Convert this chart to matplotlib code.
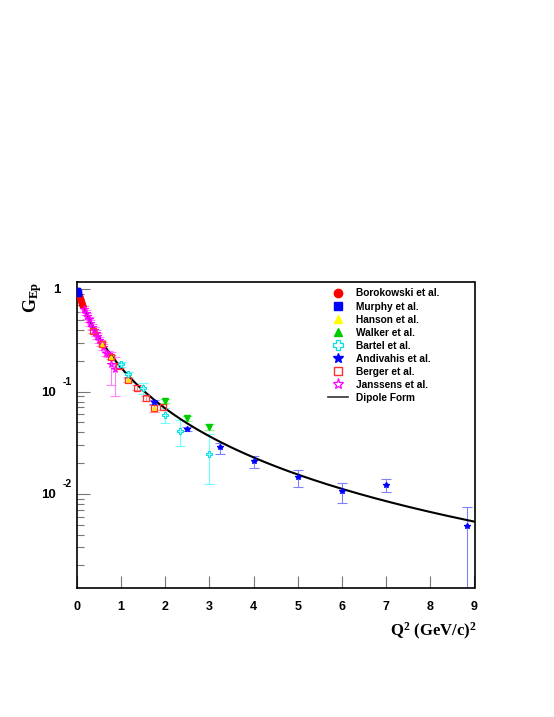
import numpy as np
import matplotlib
matplotlib.use("Agg")
import matplotlib.pyplot as plt
from matplotlib.lines import Line2D
from matplotlib.transforms import ScaledTranslation

plt.rcParams['font.family'] = ['Liberation Sans', 'DejaVu Sans']
plt.rcParams['mathtext.fontset'] = 'custom'
plt.rcParams['mathtext.rm'] = 'Liberation Serif:bold'
plt.rcParams['mathtext.bf'] = 'Liberation Serif:bold'
plt.rcParams['mathtext.it'] = 'Liberation Serif:bold'

# ---------------- data ----------------
q2_borokowski = [0.015, 0.025, 0.035, 0.045, 0.055, 0.065, 0.075, 0.09, 0.10, 0.115, 0.13, 0.145]
g_borokowski = [0.955, 0.93, 0.905, 0.88, 0.855, 0.835, 0.81, 0.78, 0.76, 0.735, 0.71, 0.685]

q2_murphy = [0.005, 0.01, 0.015, 0.02, 0.03]
g_murphy = [0.985, 0.975, 0.96, 0.945, 0.92]

q2_hanson = [0.58, 0.77, 1.15, 1.76]
g_hanson = [0.294, 0.217, 0.130, 0.0688]

q2_walker = [2.00, 2.50, 3.00]
g_walker = [0.081, 0.0549, 0.0455]
e_walker = [0.004, 0.003, 0.003]

q2_bartel = [1.00, 1.17, 1.50, 2.00, 2.33, 3.00]
g_bartel = [0.1855, 0.148, 0.108, 0.059, 0.041, 0.0248]
elo_bartel = [0.010, 0.009, 0.013, 0.010, 0.0116, 0.0123]
ehi_bartel = [0.010, 0.009, 0.014, 0.010, 0.0122, 0.0136]

q2_andivahis = [1.75, 2.50, 3.25, 4.00, 5.00, 6.00, 7.00, 8.83]
g_andivahis = [0.0794, 0.0429, 0.0284, 0.0210, 0.0146, 0.0107, 0.0123, 0.0048]
elo_andivahis = [0.003, 0.002, 0.0038, 0.0030, 0.0029, 0.0025, 0.0019, 0.00475]
ehi_andivahis = [0.003, 0.002, 0.0033, 0.0024, 0.0025, 0.0020, 0.0017, 0.0026]

q2_berger = [0.36, 0.58, 0.77, 0.96, 1.15, 1.36, 1.56, 1.76, 1.95]
g_berger = [0.392, 0.294, 0.217, 0.178, 0.130, 0.109, 0.0861, 0.0688, 0.0713]
e_berger = [0.015, 0.012, 0.010, 0.008, 0.006, 0.006, 0.005, 0.005, 0.005]

q2_janssens = [0.16, 0.20, 0.23, 0.27, 0.30, 0.35, 0.39, 0.43, 0.47, 0.51, 0.55, 0.60, 0.66, 0.70, 0.78, 0.87]
g_janssens = [0.64, 0.59, 0.55, 0.51, 0.47, 0.43, 0.40, 0.375, 0.35, 0.32, 0.30, 0.275, 0.237, 0.232, 0.188, 0.168]
elo_janssens = [0.04, 0.035, 0.033, 0.03, 0.028, 0.026, 0.024, 0.023, 0.021, 0.02, 0.018, 0.017, 0.015, 0.015, 0.073, 0.077]
ehi_janssens = [0.04, 0.035, 0.033, 0.03, 0.028, 0.026, 0.024, 0.023, 0.021, 0.02, 0.018, 0.017, 0.015, 0.015, 0.055, 0.05]

dipole_lambda2 = 0.71  # GeV^2
q2_range = (0.0, 9.0)

labels = ["Borokowski et al.", "Murphy et al.", "Hanson et al.", "Walker et al.",
          "Bartel et al.", "Andivahis et al.", "Berger et al.", "Janssens et al.", "Dipole Form"]

# ---------------- figure ----------------
W, H = 554, 717
fig = plt.figure(figsize=(W / 100, H / 100), dpi=100)
ax_l, ax_r, ax_t, ax_b = 76.7, 474.5, 282.0, 588.0
ax = fig.add_axes([ax_l / W, 1 - ax_b / H, (ax_r - ax_l) / W, (ax_b - ax_t) / H])
ax.set_yscale('log')
ax.set_xlim(*q2_range)
ax.set_ylim(0.0012, 1.18)

# dipole
q = np.linspace(q2_range[0], q2_range[1], 400)
ax.plot(q, 1.0 / (1.0 + q / dipole_lambda2) ** 2, color='black', lw=1.5, zorder=3)

ekw = dict(fmt='none', elinewidth=0.8, capsize=3.6, capthick=0.8, zorder=2)
ax.errorbar(q2_janssens, g_janssens, yerr=[elo_janssens, ehi_janssens], ecolor='#ff80ff', **ekw)
ax.errorbar(q2_berger, g_berger, yerr=e_berger, ecolor='#ff9090', **ekw)
ax.errorbar(q2_bartel, g_bartel, yerr=[elo_bartel, ehi_bartel], ecolor='#70ffff', **ekw)
ax.errorbar(q2_walker, g_walker, yerr=e_walker, ecolor='#80ff80', **ekw)
ax.errorbar(q2_andivahis, g_andivahis, yerr=[elo_andivahis, ehi_andivahis], ecolor='#8080ff', **ekw)

mk = dict(ls='none', zorder=4)
ax.plot(q2_borokowski, g_borokowski, marker='o', ms=3.8, mfc='#ff0000', mec='#ff0000', **mk)
ax.plot(q2_murphy, g_murphy, marker='s', ms=3.6, mfc='#0000ff', mec='#0000ff', **mk)
ax.plot(q2_janssens, g_janssens, marker='*', ms=5.5, mfc='none', mec='#ff00ff', mew=0.8, **mk)
ax.plot(q2_berger, g_berger, marker='s', ms=4.2, mfc='none', mec='#ff3030', mew=0.9, **mk)
ax.plot(q2_hanson, g_hanson, marker='^', ms=2.6, mfc='#ffdd00', mec='#ffdd00', **mk)
ax.plot(q2_walker, g_walker, marker='v', ms=3.8, mfc='#00cc00', mec='#00cc00', **mk)
ax.plot(q2_bartel, g_bartel, marker='P', ms=4.8, mfc='#a0ffff', mec='#00e0e0', mew=0.7, **mk)
ax.plot(q2_andivahis, g_andivahis, marker='*', ms=4.2, mfc='#0000ff', mec='#0000ff', **mk)

# spines / ticks
for s in ['top', 'right', 'left', 'bottom']:
    ax.spines[s].set_linewidth(1.2)
ax.set_xticks(range(0, 10))
ax.xaxis.set_minor_locator(matplotlib.ticker.NullLocator())
ax.tick_params(axis='x', which='major', direction='in', length=9, width=0.8, color='#777777',
               top=False, pad=9, labelsize=9)
for t in ax.get_xticklabels():
    t.set_fontweight('bold')
yt_major = [1.0, 0.1, 0.01]
ax.set_yticks(yt_major)
ax.yaxis.set_minor_locator(matplotlib.ticker.LogLocator(base=10, subs=np.arange(2, 10)))
ax.yaxis.set_minor_formatter(matplotlib.ticker.NullFormatter())
ax.set_yticklabels([])
ax.tick_params(axis='y', which='major', direction='in', length=9.4, width=0.8, color='#777777', right=False)
ax.tick_params(axis='y', which='minor', direction='in', length=5, width=0.8, color='#777777', right=False)

ytr = ax.get_yaxis_transform()
def off(dx_px, dy_px):
    return ytr + ScaledTranslation(dx_px / 100, dy_px / 100, fig.dpi_scale_trans)

ax.text(0, 1.0, "1", transform=off(-19.5, -1), ha='center', va='center', fontsize=9.5, fontweight='bold')
for v, ex in [(0.1, "-1"), (0.01, "-2")]:
    ax.text(0, v, "10", transform=off(-28, -1), ha='center', va='center', fontsize=9.5, fontweight='bold')
    ax.text(0, v, ex, transform=off(-10, 10), ha='center', va='center', fontsize=7.5, fontweight='bold')

# axis titles
fig.text(33 / W, 1 - 297 / H, r'$\mathbf{G_{Ep}}$', rotation=90, ha='center', va='center', fontsize=13)
fig.text(477 / W, 1 - 631 / H, r'$\mathbf{Q^{2}\ (GeV/c)^{2}}$', ha='right', va='center', fontsize=12)

# legend
handles = [
    Line2D([], [], ls='none', marker='o', ms=6, mfc='#ff0000', mec='#ff0000'),
    Line2D([], [], ls='none', marker='s', ms=6, mfc='#0000ff', mec='#0000ff'),
    Line2D([], [], ls='none', marker='^', ms=6, mfc='#ffff00', mec='#ffff00'),
    Line2D([], [], ls='none', marker='^', ms=6, mfc='#00cc00', mec='#00cc00'),
    Line2D([], [], ls='none', marker='P', ms=7, mfc='none', mec='#00e0e0', mew=0.9),
    Line2D([], [], ls='none', marker='*', ms=7, mfc='#0000ff', mec='#0000ff'),
    Line2D([], [], ls='none', marker='s', ms=6, mfc='none', mec='#ff3030', mew=1.0),
    Line2D([], [], ls='none', marker='*', ms=8, mfc='none', mec='#ff00ff', mew=0.9),
    Line2D([], [], color='#333333', lw=1.2),
]
leg = ax.legend(handles, labels, loc='upper left', bbox_to_anchor=(328 / W, 1 - 288.5 / H),
                bbox_transform=fig.transFigure, frameon=False, fontsize=7.3, borderpad=0,
                borderaxespad=0, handlelength=2.0, handletextpad=0.8, labelspacing=0.3, numpoints=1)
for t in leg.get_texts():
    t.set_fontweight('bold')

fig.savefig('out.png', dpi=100)
